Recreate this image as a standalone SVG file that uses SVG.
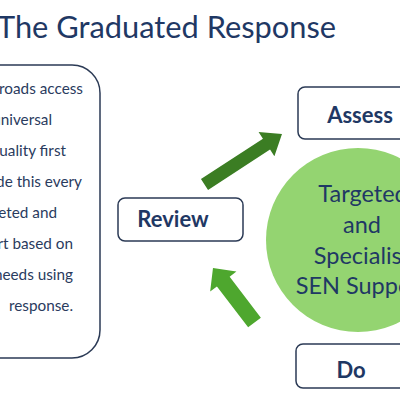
<svg xmlns="http://www.w3.org/2000/svg" width="400" height="400" viewBox="0 0 400 400">
<style>
.t{font-family:Lato,"Open Sans","Liberation Sans",sans-serif;fill:#1F3864}
.box{fill:#fff;stroke:#2B3A55;stroke-width:1.5}
.lbl{font-size:22px;font-weight:bold;text-anchor:middle}
.body{font-size:15.3px;text-anchor:end;fill:#2A3B5E}
.circ{font-size:23.5px;text-anchor:middle}
</style>
<rect width="400" height="400" fill="#fff"/>
<text id="title" class="t" x="-3" y="38" font-size="30.8">The Graduated Response</text>
<g id="panel">
<rect class="box" x="-40" y="65" width="140" height="293" rx="28"/>
<text class="t body" x="83" y="94">roads access</text>
<text class="t body" x="52" y="125">universal</text>
<text class="t body" x="66" y="156">quality first</text>
<text class="t body" x="82" y="187">de this every</text>
<text class="t body" x="57" y="218">eted and</text>
<text class="t body" x="73" y="249">rt based on</text>
<text class="t body" x="73" y="280">needs using</text>
<text class="t body" x="73" y="311">response.</text>
</g>
<g id="circle">
<circle cx="358" cy="240" r="92" fill="#94D471"/>
<text class="t circ" x="363" y="202">Targeted</text>
<text class="t circ" x="362" y="233">and</text>
<text class="t circ" x="362" y="264">Specialist</text>
<text class="t circ" x="362" y="294">SEN Support</text>
</g>
<g id="assess">
<rect class="box" x="298" y="87" width="120" height="52" rx="7"/>
<text class="t lbl" x="360" y="123">Assess</text>
</g>
<g id="review">
<rect class="box" x="118" y="198" width="125" height="43" rx="7"/>
<text class="t lbl" x="173" y="227">Review</text>
</g>
<g id="do">
<rect class="box" x="296" y="344" width="120" height="44" rx="7"/>
<text class="t lbl" x="351" y="378">Do</text>
</g>
<g id="connectors">
<polygon transform="translate(204.5,184.5) rotate(-33.1)" points="0,-6.5 74,-6.5 74,-14.5 92.5,0 74,14.5 74,6.5 0,6.5" fill="#3B7D23"/>
<polygon transform="translate(254.5,322.5) rotate(-127.3)" points="0,-8 51.5,-8 51.5,-16.5 68.5,0 51.5,16.5 51.5,8 0,8" fill="#4EA72E"/>
</g>
</svg>
